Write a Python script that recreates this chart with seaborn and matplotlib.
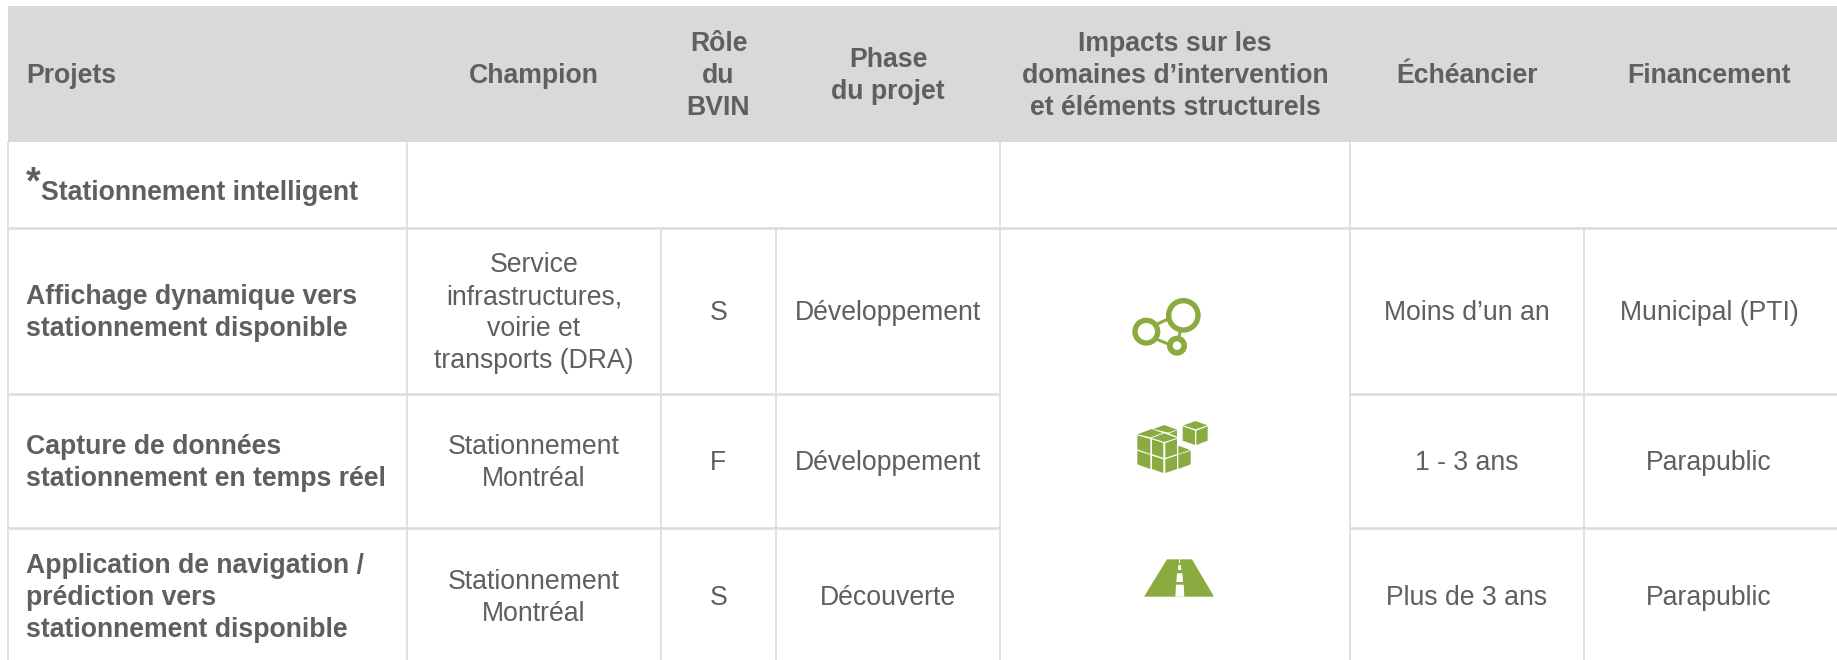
import matplotlib
matplotlib.use("Agg")
import matplotlib.pyplot as plt
from matplotlib.patches import Circle, Polygon
import numpy as np
import seaborn as sns

# Contenu du tableau
entetes = ["Projets", "Champion", "Rôle\ndu\nBVIN", "Phase\ndu projet",
           "Impacts sur les\ndomaines d’intervention\net éléments structurels",
           "Échéancier", "Financement"]
section = "Stationnement intelligent"
projets = ["Affichage dynamique vers\nstationnement disponible",
           "Capture de données\nstationnement en temps réel",
           "Application de navigation /\nprédiction vers\nstationnement disponible"]
champions = ["Service\ninfrastructures,\nvoirie et\ntransports (DRA)",
             "Stationnement\nMontréal", "Stationnement\nMontréal"]
roles = ["S", "F", "S"]
phases = ["Développement", "Développement", "Découverte"]
echeanciers = ["Moins d’un an", "1 - 3 ans", "Plus de 3 ans"]
financements = ["Municipal (PTI)", "Parapublic", "Parapublic"]

# Mise en page, en pixels
W, H = 1837, 660
bords_x = [8, 407, 661, 776, 1000, 1350, 1584, 1837]
bords_y = [6, 142, 228, 394, 528, 660]
centres_x = [26, 534, 718.5, 888, 1175, 1467, 1709]
centres_y = [74.5, 190, 312, 462, 596.5]
INTERLIGNE = 32
TAILLE = 19.2

GRIS_ENTETE = "#d9d9d9"
GRIS_LIGNE = "#dcdcdc"
GRIS_TEXTE = "#5f5f5f"
VERT = "#8aab3f"

sns.set_theme(style="white")
plt.rcParams["font.family"] = ["Liberation Sans", "DejaVu Sans"]

fig = plt.figure(figsize=(W / 100, H / 100), dpi=100)

# Bandeau d'en-tête
ax_entete = fig.add_axes([bords_x[0] / W, 1 - bords_y[1] / H,
                          (W - bords_x[0]) / W, (bords_y[1] - bords_y[0]) / H])
sns.heatmap(np.ones((1, 7)), cmap=[GRIS_ENTETE], cbar=False, linewidths=0,
            xticklabels=False, yticklabels=False, ax=ax_entete)

ax = fig.add_axes([0, 0, 1, 1])
ax.set_xlim(0, W)
ax.set_ylim(H, 0)
ax.axis("off")


def cellule(x, y, texte, ha="center", gras=False):
    lignes = texte.split("\n")
    depart = y - (len(lignes) - 1) * INTERLIGNE / 2
    for i, ligne in enumerate(lignes):
        ax.text(x, depart + i * INTERLIGNE + 8.5, ligne, ha=ha, va="baseline",
                fontsize=TAILLE, color=GRIS_TEXTE,
                fontweight="bold" if gras else "normal")


def trait_h(y, x0, x1):
    ax.plot([x0, x1], [y, y], color=GRIS_LIGNE, lw=1.9, solid_capstyle="butt")


def trait_v(x, y0, y1):
    ax.plot([x, x], [y0, y1], color=GRIS_LIGNE, lw=1.2, solid_capstyle="butt")


# Grille
trait_h(bords_y[2], bords_x[0], W)
for y in bords_y[3:5]:
    trait_h(y, bords_x[0], bords_x[4])
    trait_h(y, bords_x[5], W)
for x in [bords_x[0], bords_x[1], bords_x[4], bords_x[5]]:
    trait_v(x, bords_y[1], H)
for x in [bords_x[2], bords_x[3], bords_x[6]]:
    trait_v(x, bords_y[2], H)

# Textes
for j, entete in enumerate(entetes):
    cellule(centres_x[j], centres_y[0], entete, ha="left" if j == 0 else "center", gras=True)

ax.text(26, 193.5, "*", fontsize=27, fontweight="bold", color=GRIS_TEXTE, ha="left", va="baseline")
ax.text(41, 199.5, section, fontsize=TAILLE, fontweight="bold", color=GRIS_TEXTE, ha="left", va="baseline")

for i in range(3):
    y = centres_y[i + 2]
    cellule(centres_x[0], y, projets[i], ha="left", gras=True)
    cellule(centres_x[1], y, champions[i])
    cellule(centres_x[2], y, roles[i])
    cellule(centres_x[3], y, phases[i])
    cellule(centres_x[5], y, echeanciers[i])
    cellule(centres_x[6], y, financements[i])


# Pictogrammes : coordonnées relevées dans un repère local (1 unité = 1/3 px)
def repere(points):
    return [(1050 + px / 3, 280 + py / 3) for px, py in points]


# Réseau
for cx, cy, r_ext, r_int in [(400, 106, 52, 36), (289, 155, 42, 26), (381, 197, 30, 13)]:
    (xc, yc), = repere([(cx, cy)])
    rayon = (r_ext + r_int) / 2 / 3
    ax.add_patch(Circle((xc, yc), rayon, fill=False, ec=VERT, lw=(r_ext - r_int) / 3 * 0.72))
for seg in [[(322, 132), (352, 118)], [(325, 180), (355, 192)], [(390, 158), (387, 170)]]:
    pts = repere(seg)
    ax.plot([pts[0][0], pts[1][0]], [pts[0][1], pts[1][1]], color=VERT, lw=2.2)

# Cubes
faces_cubes = [
    [(400, 436), (437, 423), (472, 436), (437, 448)],
    [(398, 439), (435, 452), (435, 495), (398, 482)],
    [(439, 452), (473, 439), (473, 482), (439, 495)],
    [(310, 447), (343, 435), (381, 449), (355, 458)],
    [(357, 460), (381, 451), (381, 470)],
    [(262, 463), (305, 447), (338, 459), (302, 472)],
    [(305, 474), (343, 460), (381, 474), (343, 486)],
    [(262, 466), (301, 477), (301, 522), (262, 508)],
    [(306, 478), (340, 489), (340, 534), (306, 522)],
    [(346, 489), (381, 477), (381, 522), (346, 534)],
    [(262, 512), (301, 525), (301, 567), (262, 553)],
    [(306, 527), (340, 538), (340, 579), (306, 567)],
    [(346, 538), (381, 526), (381, 567), (346, 579)],
    [(385, 524), (422, 512), (422, 553), (385, 567)],
    [(385, 497), (420, 510), (385, 522)],
]
for face in faces_cubes:
    ax.add_patch(Polygon(repere(face), closed=True, fc=VERT, ec="none"))

# Route
ax.add_patch(Polygon(repere([(351, 838), (426, 838), (492, 950), (282, 950)]), closed=True, fc=VERT, ec="none"))
for tiret in [[(387, 838), (390, 838), (390, 848), (387, 848)],
              [(385, 855), (393, 855), (394, 870), (384, 870)],
              [(381, 880), (397, 880), (399, 906), (379, 906)],
              [(378, 914), (401, 914), (403, 950), (376, 950)]]:
    ax.add_patch(Polygon(repere(tiret), closed=True, fc="white", ec="none"))

fig.savefig("out.png", dpi=100, facecolor="white")
plt.close(fig)
